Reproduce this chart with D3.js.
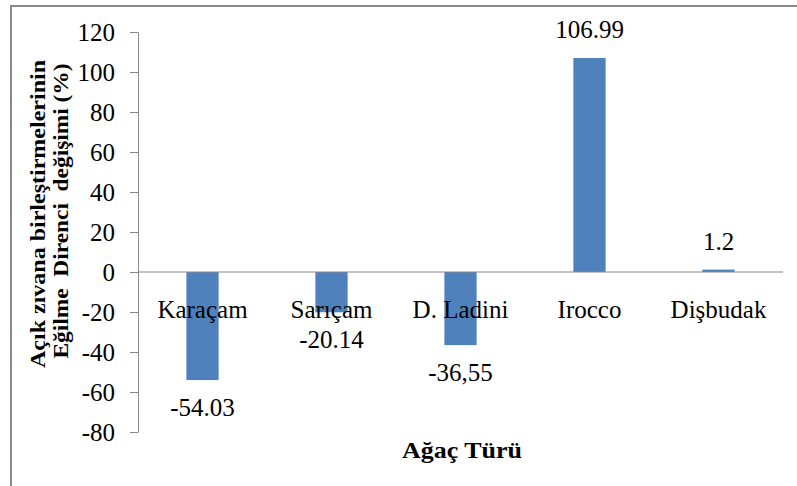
<!DOCTYPE html>
<html>
<head>
<meta charset="utf-8">
<script src="https://cdn.jsdelivr.net/npm/d3@7"></script>
<style>
  body { margin: 0; background: #fff; }
  text { font-family: "Liberation Serif", "Times New Roman", serif; fill: #000; }
</style>
</head>
<body>
<div id="chart"></div>
<script>
// Bar chart: change in bending strength of open mortise joints by tree species

const categories = ["Karaçam", "Sarıçam", "D. Ladini", "Irocco", "Dişbudak"];
const values = [-54.03, -20.14, -36.55, 106.99, 1.2];
const valueLabels = ["-54.03", "-20.14", "-36,55", "106.99", "1.2"];
const yTicks = [-80, -60, -40, -20, 0, 20, 40, 60, 80, 100, 120];
const yTitleLines = ["Açık zıvana birleştirmelerinin", "Eğilme  Direnci  değişimi (%)"];

const width = 797;
const height = 486;
const margin = { left: 138, right: 14, top: 32, bottom: 54 };

const svg = d3.select("#chart")
    .append("svg")
    .attr("width", width)
    .attr("height", height);

// outer frame (only left and top edges visible)
svg.append("rect")
    .attr("x", 11)
    .attr("y", 6)
    .attr("width", 820)
    .attr("height", 520)
    .attr("fill", "none")
    .attr("stroke", "#888")
    .attr("stroke-width", 2);

const x = d3.scaleBand()
    .domain(categories)
    .range([margin.left, width - margin.right])
    .paddingInner(0.75)
    .paddingOuter(0.375);

const y = d3.scaleLinear()
    .domain([-80, 120])
    .range([height - margin.bottom, margin.top]);

const yAxis = svg.append("g")
    .attr("transform", `translate(${margin.left},0)`)
    .call(d3.axisLeft(y)
        .tickValues(yTicks)
        .tickFormat(d => String(d))
        .tickSize(8)
        .tickSizeOuter(0)
        .tickPadding(15));

yAxis.selectAll("path, line").attr("stroke", "#888");
yAxis.selectAll("text")
    .style("font-family", "'Liberation Serif', serif")
    .attr("font-size", 25)
    .attr("fill", "#000");

// bars
svg.selectAll("rect.bar")
    .data(values)
    .enter().append("rect")
    .attr("class", "bar")
    .attr("x", (d, i) => x(categories[i]))
    .attr("width", x.bandwidth())
    .attr("y", d => y(Math.max(0, d)))
    .attr("height", d => Math.abs(y(d) - y(0)))
    .attr("fill", "#4F81BD");

// zero line
svg.append("line")
    .attr("x1", margin.left)
    .attr("x2", width - margin.right)
    .attr("y1", y(0))
    .attr("y2", y(0))
    .attr("stroke", "#888")
    .attr("stroke-width", 1);

// category labels
svg.selectAll("text.cat")
    .data(categories)
    .enter().append("text")
    .attr("class", "cat")
    .attr("x", d => x(d) + x.bandwidth() / 2)
    .attr("y", y(0) + 46)
    .attr("text-anchor", "middle")
    .attr("font-size", 25)
    .text(d => d);

// value labels
svg.selectAll("text.val")
    .data(values)
    .enter().append("text")
    .attr("class", "val")
    .attr("x", (d, i) => x(categories[i]) + x.bandwidth() / 2)
    .attr("y", d => d < 0 ? y(d) + 36 : y(d) - 20)
    .attr("text-anchor", "middle")
    .attr("font-size", 25)
    .text((d, i) => valueLabels[i]);

// axis titles
const titlePos = [{ x: 45, y: 214, len: 308 }, { x: 68, y: 211, len: 295 }];
svg.selectAll("text.ytitle")
    .data(yTitleLines)
    .enter().append("text")
    .attr("class", "ytitle")
    .attr("transform", (d, i) => `translate(${titlePos[i].x},${titlePos[i].y}) rotate(-90)`)
    .attr("text-anchor", "middle")
    .attr("font-size", 22)
    .attr("font-weight", "bold")
    .attr("textLength", (d, i) => titlePos[i].len)
    .attr("lengthAdjust", "spacingAndGlyphs")
    .style("white-space", "pre")
    .text(d => d);

svg.append("text")
    .attr("x", 462)
    .attr("y", 458)
    .attr("text-anchor", "middle")
    .attr("font-size", 23)
    .attr("font-weight", "bold")
    .attr("textLength", 120)
    .attr("lengthAdjust", "spacingAndGlyphs")
    .text("Ağaç Türü");
</script>
</body>
</html>
